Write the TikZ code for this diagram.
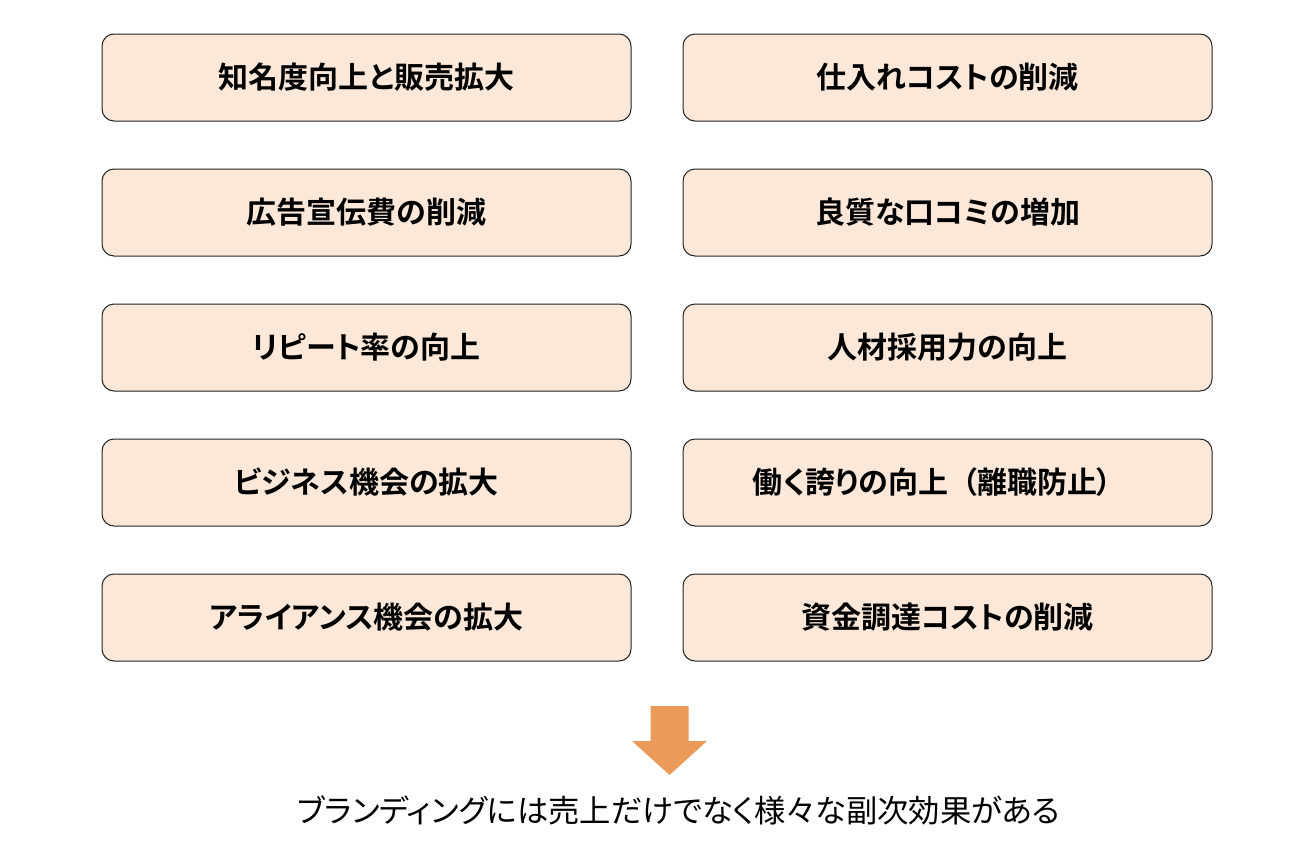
\documentclass[tikz,border=0pt]{standalone}
\usepackage{fontspec}
\newfontfamily\jpbold[RawFeature=+palt]{Noto Sans CJK JP Bold}
\newfontfamily\jpreg[RawFeature=+palt]{Noto Sans CJK JP}
\definecolor{boxfill}{HTML}{FBE8D9}
\definecolor{arrowfill}{HTML}{EB9B59}
\definecolor{boxline}{HTML}{222222}
\begin{document}
\begin{tikzpicture}[x=1pt,y=-1pt,
  item/.style={draw=boxline, line width=1pt, fill=boxfill, rounded corners=12pt,
    minimum width=529pt, minimum height=87pt, inner sep=0pt,
    font=\jpbold\fontsize{30pt}{34pt}\selectfont},
  note/.style={inner sep=0pt, font=\jpreg\fontsize{31.3pt}{36pt}\selectfont}]
\useasboundingbox (0,0) rectangle (1306,846);
\node[item] (l1) at (366.5,77.5) {知名度向上と販売拡大};
\node[item] (r1) at (947.5,77.5) {仕入れコストの削減};
\node[item] (l2) at (366.5,212.5) {広告宣伝費の削減};
\node[item] (r2) at (947.5,212.5) {良質な口コミの増加};
\node[item] (l3) at (366.5,347.5) {リピート率の向上};
\node[item] (r3) at (947.5,347.5) {人材採用力の向上};
\node[item] (l4) at (366.5,482.5) {ビジネス機会の拡大};
\node[item] (r4) at (947.5,482.5) {働く誇りの向上\kern0.45em（離職防止）\kern30pt};
\node[item] (l5) at (366.5,617.5) {アライアンス機会の拡大};
\node[item] (r5) at (947.5,617.5) {資金調達コストの削減};
\fill[arrowfill] (650.5,706) -- (688.5,706) -- (688.5,741) -- (707,741) -- (669.5,775)
  -- (632,741) -- (650.5,741) -- cycle;
\node[note] (summary) at (679,810) {ブランディングには売上だけでなく様々な副次効果がある};
\end{tikzpicture}
\end{document}
